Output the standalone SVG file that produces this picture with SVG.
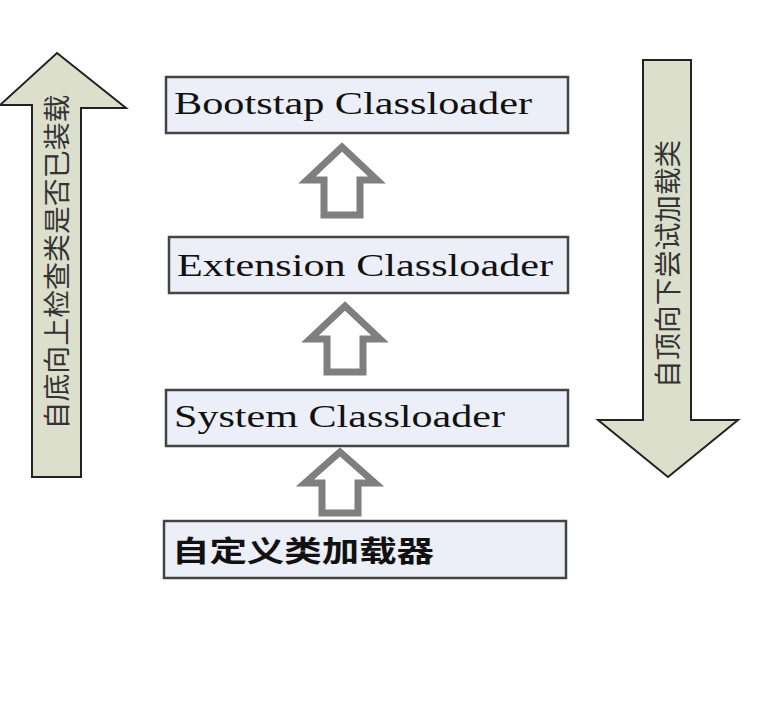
<svg xmlns="http://www.w3.org/2000/svg" width="773" height="717" viewBox="0 0 773 717">
<style>
.box{fill:#eceef8;stroke:#444;stroke-width:2.5}
.lbl{font-family:"Liberation Serif",serif;font-size:31px;fill:#111}
.big{fill:#dcdfcc;stroke:#222;stroke-width:2}
.cn{font-family:"Noto Sans CJK SC",sans-serif;font-size:27px;fill:#333}
.ha{fill:#fff;stroke:#7f7f7f;stroke-width:7;stroke-linejoin:miter}
</style>
<rect width="773" height="717" fill="#fff"/>
<g id="up-arrow">
<polygon class="big" points="57,53 126,108 81,108 81,477 32,477 32,105 0,105"/>
<text class="cn" transform="translate(67,262) rotate(-90)" text-anchor="middle" textLength="335" lengthAdjust="spacingAndGlyphs">自底向上检查类是否已装载</text>
</g>
<g id="down-arrow">
<polygon class="big" points="643,60 691,60 691,420 738,420 668,477 598,420 643,420"/>
<text class="cn" transform="translate(678,264) rotate(-90)" text-anchor="middle" textLength="248" lengthAdjust="spacingAndGlyphs">自顶向下尝试加载类</text>
</g>
<g id="bootstrap"><rect class="box" x="166" y="77" width="402" height="56"/><text class="lbl" x="174" y="114" textLength="358" lengthAdjust="spacingAndGlyphs">Bootstap Classloader</text></g>
<g id="extension"><rect class="box" x="169" y="237" width="399" height="56"/><text class="lbl" x="177" y="276" textLength="376" lengthAdjust="spacingAndGlyphs">Extension Classloader</text></g>
<g id="system"><rect class="box" x="166" y="390" width="402" height="56"/><text class="lbl" x="174" y="427" textLength="331" lengthAdjust="spacingAndGlyphs">System Classloader</text></g>
<g id="custom"><rect class="box" x="164" y="521" width="402" height="57"/><text x="172" y="562" textLength="262" lengthAdjust="spacingAndGlyphs" style="font-family:'Noto Sans CJK SC',sans-serif;font-size:29px;font-weight:bold;fill:#111">自定义类加载器</text></g>
<g id="connectors">
<polygon class="ha" points="342,147 377,180 360,180 360,215 324,215 324,180 307,180"/>
<polygon class="ha" points="345,306 380,339 363,339 363,372 327,372 327,339 310,339"/>
<polygon class="ha" points="340,452 375,483 358,483 358,513 322,513 322,483 305,483"/>
</g>
</svg>
